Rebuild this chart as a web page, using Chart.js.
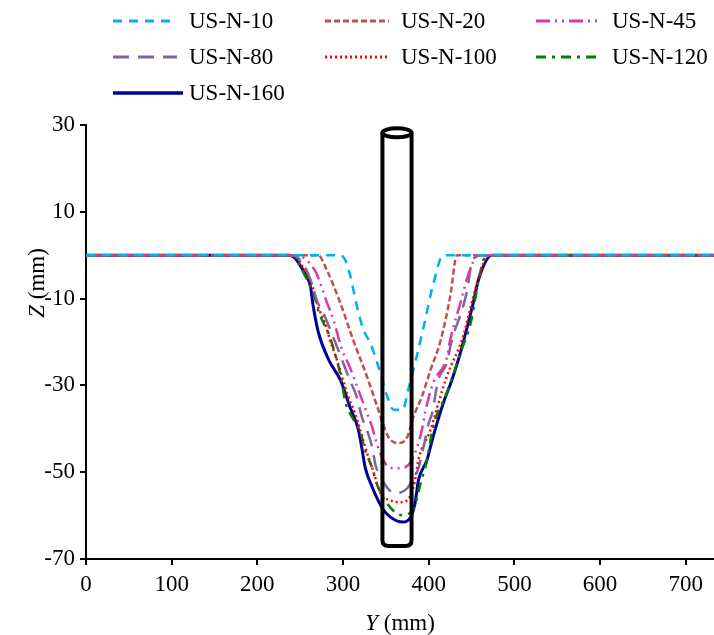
<!DOCTYPE html>
<html>
<head>
<meta charset="utf-8">
<script src="https://cdn.jsdelivr.net/npm/chart.js@4.4.1/dist/chart.umd.min.js"></script>
<style>
  html, body { margin: 0; padding: 0; background: #fff; }
  canvas { display: block; }
</style>
</head>
<body>
<canvas id="profileChart" width="714" height="635"></canvas>
<script>
const seriesNames = ['US-N-10', 'US-N-20', 'US-N-45', 'US-N-80', 'US-N-100', 'US-N-120', 'US-N-160'];

const yN10  = [0, 285, 297, 305, 318, 324, 332, 340, 345, 351, 359, 370, 375, 384, 394, 405, 417, 733];
const zN10  = [0, 0, 0, -2.3, -13.2, -17.3, -20.3, -24.9, -28.1, -32.2, -35.6, -35.6, -31.8, -24.9, -16.6, -6.9, 0, 0];

const yN20  = [0, 271, 281, 297, 312, 328, 340, 353, 365, 375, 382, 392, 402, 414, 425, 433, 733];
const zN20  = [0, 0, -3.4, -11.1, -19.6, -28.0, -34.9, -41.9, -43.3, -41.9, -37.3, -32.6, -26.5, -19.6, -9.6, 0, 0];

const yN45  = [0, 246, 254, 268, 275, 281, 289, 299, 306, 318, 328, 334, 340, 351, 361, 373, 382, 392, 396, 405, 421, 425, 438, 446, 458, 733];
const zN45  = [0, 0, -0.6, -3.8, -7.3, -10.8, -15.0, -21.9, -24.9, -31.1, -36.4, -39.6, -43.8, -48.4, -49.1, -48.8, -46.5, -40.3, -36.1, -29.5, -23.7, -19.6, -10.3, -4.6, 0, 0];

const yN80  = [0, 238, 252, 262, 270, 277, 293, 308, 316, 322, 328, 334, 338, 344, 352, 361, 375, 382, 388, 394, 400, 404, 411, 421, 427, 440, 445, 451, 463, 733];
const zN80  = [0, 0, -1.5, -5.7, -10.7, -13.3, -21.1, -28.8, -32.6, -37.3, -40.3, -44.2, -48.4, -51.1, -53.7, -54.9, -53.7, -51.4, -49.1, -44.2, -38.7, -36.4, -28.8, -24.9, -19.6, -11.9, -8.0, -1.1, 0, 0];

const yN100 = [0, 236, 248, 256, 262, 271, 279, 285, 293, 300, 306, 314, 328, 335, 344, 355, 367, 379, 384, 388, 402, 410, 421, 440, 452, 464, 469, 733];
const zN100 = [0, 0, -1.1, -3.8, -5.7, -11.9, -15.6, -19.6, -24.2, -28.8, -32.6, -36.4, -45.6, -49.6, -54.9, -56.5, -56.9, -55.3, -51.9, -47.2, -40.3, -35.0, -28.0, -18.8, -9.6, -1.8, 0, 0];

const yN120 = [0, 241, 250, 254, 268, 271, 283, 287, 297, 303, 308, 322, 324, 335, 338, 349, 369, 384, 390, 398, 405, 421, 437, 449, 460, 467, 733];
const zN120 = [0, 0, -2.7, -4.1, -10.4, -12.7, -18.0, -20.3, -27.6, -34.1, -36.4, -41.9, -43.8, -49.6, -51.9, -56.5, -59.9, -57.6, -53.0, -47.2, -39.6, -31.8, -22.5, -15.6, -4.1, 0, 0];

const yN160 = [0, 238, 244, 252, 258, 262, 265, 271, 283, 297, 308, 318, 322, 326, 334, 345, 355, 370, 379, 384, 388, 398, 405, 417, 427, 437, 445, 452, 458, 474, 733];
const zN160 = [0, 0, -0.7, -3.0, -5.0, -7.2, -11.5, -17.6, -24.0, -28.8, -34.9, -40.3, -44.5, -49.0, -53.4, -58.0, -60.3, -61.5, -60.3, -57.2, -51.9, -47.2, -41.9, -34.1, -28.8, -22.5, -16.5, -11.0, -5.7, 0, 0];

// pile outline: Y extent and Z extent (mm)
const pileY = [346, 380];
const pileZ = [28.2, -67];

const xTicks = [0, 100, 200, 300, 400, 500, 600, 700];

const colors  = ['#00B0F0', '#C0504D', '#D63BA6', '#8064A2', '#FF0000', '#008000', '#000099'];
const dashes  = [[9, 7], [6, 3], [14, 5, 2, 5, 2, 5], [16, 9], [2, 3], [10, 6, 3, 6], []];
const widths  = [2.5, 2.5, 2.5, 2.5, 2.5, 2.5, 3];

const ys = [yN10, yN20, yN45, yN80, yN100, yN120, yN160];
const zs = [zN10, zN20, zN45, zN80, zN100, zN120, zN160];

const FONT = '"Liberation Serif", "Times New Roman", serif';
const FS = 23;

const datasets = seriesNames.map((name, k) => ({
  label: name,
  data: ys[k].map((y, i) => ({ x: y, y: zs[k][i] })),
  borderColor: colors[k],
  borderDash: dashes[k],
  borderWidth: widths[k],
  pointRadius: 0,
  showLine: true,
  cubicInterpolationMode: 'monotone',
  fill: false
}));

// draws the pile, the legend and both axis titles
const extras = {
  id: 'extras',
  afterDatasetsDraw(chart) {
    const { ctx, scales: { x, y } } = chart;
    const xl = x.getPixelForValue(pileY[0]);
    const xr = x.getPixelForValue(pileY[1]);
    const yt = y.getPixelForValue(pileZ[0]);
    const yb = y.getPixelForValue(pileZ[1]);
    const cx = (xl + xr) / 2, rx = (xr - xl) / 2, ry = 4.5, rc = 6;
    ctx.save();
    ctx.strokeStyle = '#000';
    ctx.lineWidth = 4;
    ctx.setLineDash([]);
    ctx.beginPath();
    ctx.moveTo(xl, yt);
    ctx.lineTo(xl, yb - rc);
    ctx.quadraticCurveTo(xl, yb, xl + rc, yb);
    ctx.lineTo(xr - rc, yb);
    ctx.quadraticCurveTo(xr, yb, xr, yb - rc);
    ctx.lineTo(xr, yt);
    ctx.stroke();
    ctx.beginPath();
    ctx.ellipse(cx, yt, rx, ry, 0, 0, Math.PI * 2);
    ctx.fillStyle = '#fff';
    ctx.fill();
    ctx.stroke();
    ctx.restore();
  },
  afterDraw(chart) {
    const { ctx, chartArea } = chart;
    ctx.save();
    // legend, 3 columns
    const colX = [113, 325, 536];
    const rowY = [21, 57, 93];
    chart.data.datasets.forEach((ds, k) => {
      const lx = colX[k % 3], ly = rowY[Math.floor(k / 3)];
      const len = k === 6 ? 70 : 64;
      ctx.strokeStyle = ds.borderColor;
      ctx.lineWidth = ds.borderWidth + 0.5;
      ctx.setLineDash(ds.borderDash);
      ctx.beginPath();
      ctx.moveTo(lx, ly);
      ctx.lineTo(lx + len, ly);
      ctx.stroke();
      ctx.setLineDash([]);
      ctx.fillStyle = '#000';
      ctx.font = FS + 'px ' + FONT;
      ctx.textBaseline = 'middle';
      ctx.textAlign = 'left';
      ctx.fillText(ds.label, lx + 76, ly + 1);
    });
    // x title: italic Y + (mm)
    ctx.fillStyle = '#000';
    ctx.textBaseline = 'middle';
    const xc = (chartArea.left + chartArea.right) / 2;
    ctx.font = 'italic ' + FS + 'px ' + FONT;
    const w1 = ctx.measureText('Y').width;
    ctx.font = FS + 'px ' + FONT;
    const w2 = ctx.measureText(' (mm)').width;
    let sx = xc - (w1 + w2) / 2;
    ctx.textAlign = 'left';
    ctx.font = 'italic ' + FS + 'px ' + FONT;
    ctx.fillText('Y', sx, 624);
    ctx.font = FS + 'px ' + FONT;
    ctx.fillText(' (mm)', sx + w1, 624);
    // y title rotated
    ctx.translate(38, 283);
    ctx.rotate(-Math.PI / 2);
    ctx.font = 'italic ' + FS + 'px ' + FONT;
    const v1 = ctx.measureText('Z').width;
    ctx.font = FS + 'px ' + FONT;
    const v2 = ctx.measureText(' (mm)').width;
    sx = -(v1 + v2) / 2;
    ctx.font = 'italic ' + FS + 'px ' + FONT;
    ctx.fillText('Z', sx, 0);
    ctx.font = FS + 'px ' + FONT;
    ctx.fillText(' (mm)', sx + v1, 0);
    ctx.restore();
  }
};

new Chart(document.getElementById('profileChart').getContext('2d'), {
  type: 'scatter',
  data: { datasets },
  options: {
    responsive: false,
    animation: false,
    layout: { padding: { top: 125, right: 0, left: 0, bottom: 0 } },
    plugins: { legend: { display: false }, tooltip: { enabled: false } },
    scales: {
      x: {
        type: 'linear',
        min: 0, max: 733,
        afterBuildTicks: s => { s.ticks = xTicks.map(v => ({ value: v })); },
        afterFit: s => { s.height = 76; },
        grid: { drawOnChartArea: false, drawTicks: true, tickLength: 6, color: '#000', lineWidth: 2 },
        border: { color: '#000', width: 2 },
        ticks: { color: '#000', font: { family: FONT, size: FS }, padding: 6, maxRotation: 0 }
      },
      y: {
        type: 'linear',
        min: -70, max: 30,
        ticks: { stepSize: 20, color: '#000', font: { family: FONT, size: FS }, padding: 5 },
        afterFit: s => { s.width = 86; },
        grid: { drawOnChartArea: false, drawTicks: true, tickLength: 6, color: '#000', lineWidth: 2 },
        border: { color: '#000', width: 2 }
      }
    }
  },
  plugins: [extras]
});
</script>
</body>
</html>
